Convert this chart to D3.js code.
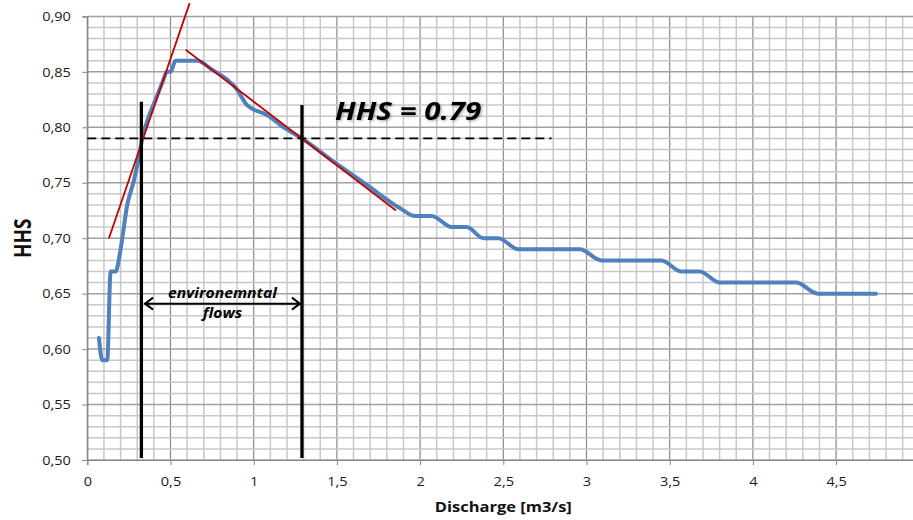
<!DOCTYPE html>
<html>
<head>
<meta charset="utf-8">
<script src="https://cdn.jsdelivr.net/npm/d3@7"></script>
<style>
  body { margin: 0; background: #fff; }
  svg { display: block; font-family: "Open Sans", sans-serif; }
</style>
</head>
<body>
<div id="chart"></div>
<script>
// HHS curve
const discharge = [0.07, 0.09, 0.12, 0.14, 0.17, 0.20, 0.24, 0.28, 0.31, 0.33, 0.37, 0.41, 0.45, 0.48, 0.50, 0.53, 0.66,
                   0.75, 0.84, 0.89, 0.96, 1.08, 1.18, 1.29, 1.48, 1.68, 1.88, 1.97, 2.07, 2.19, 2.28, 2.38, 2.47,
                   2.59, 2.96, 3.09, 3.45, 3.57, 3.68, 3.80, 4.26, 4.39, 4.74];
const hhs = [0.61, 0.59, 0.59, 0.67, 0.67, 0.69, 0.73, 0.752, 0.773, 0.79, 0.81, 0.825, 0.84, 0.85, 0.85, 0.86, 0.86,
             0.852, 0.843, 0.836, 0.82, 0.811, 0.80, 0.79, 0.769, 0.748, 0.727, 0.72, 0.72, 0.71, 0.71, 0.70, 0.70,
             0.69, 0.69, 0.68, 0.68, 0.67, 0.67, 0.66, 0.66, 0.65, 0.65];

// Annotations (data units)
const tangentUp = [[0.13, 0.70], [0.615, 0.912]];
const tangentDown = [[0.591, 0.870], [1.855, 0.725]];
const envLimits = [0.325, 1.29];       // vertical bars
const envTops = [0.823, 0.82];
const hhsLevel = 0.79;
const dashEnd = 2.79;
const arrowSpan = [0.341, 1.284];
const arrowY = 0.641;

const xTicks = [0, 0.5, 1, 1.5, 2, 2.5, 3, 3.5, 4, 4.5];
const yTicks = [0.5, 0.55, 0.6, 0.65, 0.7, 0.75, 0.8, 0.85, 0.9];

const width = 913, height = 520;
const SX = 1.12;   // the picture is stretched horizontally

const x = d3.scaleLinear().domain([0, 5]).range([87.3, 919.3]);
const y = d3.scaleLinear().domain([0.5, 0.9]).range([460, 16.4]);

const loc = d3.formatLocale({decimal: ",", thousands: ".", grouping: [3], currency: ["", "€"]});

const svg = d3.select("#chart").append("svg")
    .attr("width", width)
    .attr("height", height);

const defs = svg.append("defs");
defs.append("filter")
    .attr("id", "glow")
    .attr("x", "-10%").attr("y", "-30%").attr("width", "120%").attr("height", "160%")
    .append("feDropShadow")
    .attr("dx", 1).attr("dy", 1)
    .attr("stdDeviation", 1.5)
    .attr("flood-color", "#000")
    .attr("flood-opacity", 0.35);

// --- Grid ---
const vGrid = d3.range(0, 51).map(i => i / 10);
const hGrid = d3.range(0, 41).map(i => 0.5 + i / 100);

svg.append("g")
    .selectAll("line")
    .data(vGrid)
    .join("line")
    .attr("x1", d => x(d)).attr("x2", d => x(d))
    .attr("y1", y(0.5)).attr("y2", y(0.9))
    .attr("stroke", (d, i) => i % 5 === 0 ? "#8a8a8a" : "#c8c8c8")
    .attr("stroke-width", (d, i) => i % 5 === 0 ? 1.2 : 1.5);

svg.append("g")
    .selectAll("line")
    .data(hGrid)
    .join("line")
    .attr("x1", x(0)).attr("x2", x(5))
    .attr("y1", d => y(d)).attr("y2", d => y(d))
    .attr("stroke", (d, i) => i % 5 === 0 ? "#a0a0a0" : "#c8c8c8")
    .attr("stroke-width", 1.5);

// --- Axes ---
const xAxis = svg.append("g")
    .attr("transform", `translate(0,${y(0.5)})`)
    .call(d3.axisBottom(x).tickValues(xTicks).tickFormat(loc.format("~g")).tickSize(5).tickPadding(11.5));
const yAxis = svg.append("g")
    .attr("transform", `translate(${x(0)},0)`)
    .call(d3.axisLeft(y).tickValues(yTicks).tickFormat(loc.format(".2f")).tickSize(5).tickPadding(9.6));

[xAxis, yAxis].forEach(a => {
    a.select(".domain").attr("stroke", "#868686").attr("stroke-width", 1.2);
    a.selectAll(".tick line").attr("stroke", "#868686");
    a.selectAll(".tick text")
        .attr("fill", "#1a1a1a")
        .style("font-size", "13px")
        .style("font-family", "'Open Sans', sans-serif")
        .attr("transform", `scale(${SX},1)`);
});

// Axis titles
svg.append("text")
    .attr("transform", `translate(${(x(0) + x(5)) / 2},512) scale(1.1,1)`)
    .attr("text-anchor", "middle")
    .style("font-size", "15px")
    .style("font-weight", "bold")
    .attr("fill", "#111")
    .text("Discharge [m3/s]");

svg.append("text")
    .attr("transform", `translate(31,${(y(0.5) + y(0.9)) / 2}) scale(1.2,1) rotate(-90)`)
    .attr("text-anchor", "middle")
    .style("font-size", "19px")
    .style("font-weight", "bold")
    .attr("fill", "#111")
    .text("HHS");

// --- HHS curve ---
const line = d3.line()
    .x(d => x(d[0]))
    .y(d => y(d[1]))
    .curve(d3.curveMonotoneX);

svg.append("path")
    .datum(d3.zip(discharge, hhs))
    .attr("fill", "none")
    .attr("stroke", "#4f81bd")
    .attr("stroke-width", 4)
    .attr("stroke-linejoin", "round")
    .attr("stroke-linecap", "round")
    .attr("d", line);

// --- Annotations ---
svg.append("line")
    .attr("x1", x(0)).attr("x2", x(dashEnd))
    .attr("y1", y(hhsLevel)).attr("y2", y(hhsLevel))
    .attr("stroke", "#000")
    .attr("stroke-width", 1.8)
    .attr("stroke-dasharray", "9,5");

svg.append("g")
    .selectAll("line")
    .data([tangentUp, tangentDown])
    .join("line")
    .attr("x1", d => x(d[0][0])).attr("y1", d => y(d[0][1]))
    .attr("x2", d => x(d[1][0])).attr("y2", d => y(d[1][1]))
    .attr("stroke", "#c00000")
    .attr("stroke-width", 1.8);

svg.append("g")
    .selectAll("line")
    .data(envLimits)
    .join("line")
    .attr("x1", d => x(d)).attr("x2", d => x(d))
    .attr("y1", y(0.5) - 2)
    .attr("y2", (d, i) => y(envTops[i]))
    .attr("stroke", "#000")
    .attr("stroke-width", 3.3);

// Double arrow
const ax0 = x(arrowSpan[0]), ax1 = x(arrowSpan[1]), ay = y(arrowY);
svg.append("path")
    .attr("d", `M${ax0},${ay}H${ax1}M${ax0 + 9},${ay - 6}L${ax0 + 1},${ay}L${ax0 + 9},${ay + 6}` +
               `M${ax1 - 9},${ay - 6}L${ax1 - 1},${ay}L${ax1 - 9},${ay + 6}`)
    .attr("fill", "none")
    .attr("stroke", "#000")
    .attr("stroke-width", 2);

const midX = x((arrowSpan[0] + arrowSpan[1]) / 2);
svg.append("text")
    .attr("transform", `translate(${midX},${ay - 6}) scale(${SX},1)`)
    .attr("text-anchor", "middle")
    .style("font-size", "14px")
    .style("font-weight", "bold")
    .style("font-style", "italic")
    .text("environemntal");
svg.append("text")
    .attr("transform", `translate(${midX},${ay + 14}) scale(${SX},1)`)
    .attr("text-anchor", "middle")
    .style("font-size", "14px")
    .style("font-weight", "bold")
    .style("font-style", "italic")
    .text("flows");

svg.append("text")
    .attr("transform", `translate(${x(1.489)},${y(0.8066)}) scale(1.18,1)`)
    .attr("filter", "url(#glow)")
    .style("font-size", "25px")
    .style("font-weight", "bold")
    .style("font-style", "italic")
    .attr("fill", "#000")
    .text("HHS = 0.79");
</script>
</body>
</html>
